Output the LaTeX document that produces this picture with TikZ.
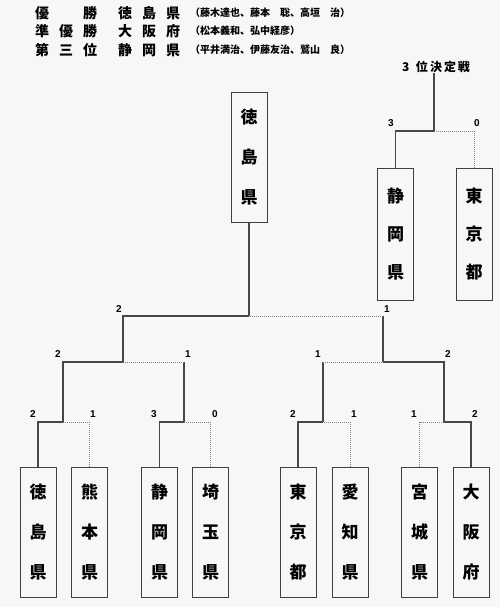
\documentclass[tikz,border=0pt]{standalone}
\usepackage{fontspec}
\setmainfont{Liberation Sans}
\newfontfamily\cjk{Noto Sans CJK JP}
\newlength\chpitch
\newcommand\bx[1]{\makebox[\chpitch][l]{#1}}
\begin{document}
\begin{tikzpicture}[x=1pt,y=-1pt,
  team/.style={draw=black!75, line width=1pt, minimum width=36pt, minimum height=130pt, inner sep=0pt, align=center, font=\cjk\bfseries\fontsize{17}{40}\selectfont},
  teamb/.style={team, minimum height=132pt, font=\cjk\bfseries\fontsize{17}{38}\selectfont},
  win/.style={draw=black!72, line width=1.1pt},
  lose/.style={draw=black!50, line width=0.9pt, dash pattern=on 1pt off 1pt},
  score/.style={font=\bfseries\fontsize{10}{10}\selectfont, inner sep=0pt},
  hdr/.style={font=\cjk\bfseries\fontsize{14}{14}\selectfont, anchor=west, inner sep=0pt},
  mem/.style={font=\cjk\bfseries\fontsize{10}{10}\selectfont, anchor=west, inner sep=0pt},
  ttl/.style={font=\cjk\bfseries\fontsize{12}{12}\selectfont, inner sep=0pt}]
\fill[black!3] (0,0) rectangle (500,607);
\useasboundingbox (0,0) rectangle (500,607);
% header
\setlength\chpitch{24pt}
\node[hdr] (h1a) at (35,13) {\bx{優}\bx{}\bx{勝}};
\node[hdr] (h1b) at (118,13) {\bx{徳}\bx{島}\bx{県}};
\node[mem] (h1c) at (190,13) {（藤木達也、藤本　聡、高垣　治）};
\node[hdr] (h2a) at (35,31) {\bx{準}\bx{優}\bx{勝}};
\node[hdr] (h2b) at (118,31) {\bx{大}\bx{阪}\bx{府}};
\node[mem] (h2c) at (190,31) {（松本義和、弘中経彦）};
\node[hdr] (h3a) at (35,50) {\bx{第}\bx{三}\bx{位}};
\node[hdr] (h3b) at (118,50) {\bx{静}\bx{岡}\bx{県}};
\node[mem] (h3c) at (190,50) {（平井満治、伊藤友治、鷲山　良）};
% teams
\node[team] (L1) at (38,532) {徳\\島\\県};
\node[team] (L2) at (89.5,532) {熊\\本\\県};
\node[team] (L3) at (159.5,532) {静\\岡\\県};
\node[team] (L4) at (210.5,532) {埼\\玉\\県};
\node[team] (L5) at (298,532) {東\\京\\都};
\node[team] (L6) at (350,532) {愛\\知\\県};
\node[team] (L7) at (419.5,532) {宮\\城\\県};
\node[team] (L8) at (471,532) {大\\阪\\府};
\node[team] (C) at (249,157.5) {徳\\島\\県};
\node[teamb] (S) at (395.5,234) {静\\岡\\県};
\node[teamb] (E) at (474,234) {東\\京\\都};
\setlength\chpitch{14pt}
\node[ttl] (Q) at (437,67) {\bx{3}\bx{位}\bx{決}\bx{定}\bx{戦}};
% junctions
\coordinate (J1) at (63,422);
\coordinate (J2) at (184,422);
\coordinate (J3) at (323,422);
\coordinate (J4) at (444,422);
\coordinate (K1) at (123,362);
\coordinate (K2) at (383,362);
\coordinate (F) at (249,316);
\coordinate (T) at (434,131);
% connectors
\draw[win] (L1.north) |- (J1);
\draw[lose] (L2.north) |- (J1);
\draw[win] (L3.north) |- (J2);
\draw[lose] (L4.north) |- (J2);
\draw[win] (L5.north) |- (J3);
\draw[lose] (L6.north) |- (J3);
\draw[lose] (L7.north) |- (J4);
\draw[win] (L8.north) |- (J4);
\draw[win] (J1) |- (K1);
\draw[win] (J2) -- (J2 |- K1);
\draw[lose] (J2 |- K1) -- (K1);
\draw[win] (J3) -- (J3 |- K2);
\draw[lose] (J3 |- K2) -- (K2);
\draw[win] (J4) |- (K2);
\draw[win] (K1) |- (F);
\draw[win] (K2) -- (K2 |- F);
\draw[lose] (K2 |- F) -- (F);
\draw[win] (F) -- (C.south);
\draw[win] (S.north) |- (T);
\draw[lose] (E.north) |- (T);
\draw[win] (T) -- (T |- Q.south);
% scores
\node[score] (s1) at (33,414) {2};
\node[score] (s2) at (93,414) {1};
\node[score] (s3) at (154,414) {3};
\node[score] (s4) at (215,414) {0};
\node[score] (s5) at (293,414) {2};
\node[score] (s6) at (354,414) {1};
\node[score] (s7) at (414,414) {1};
\node[score] (s8) at (475,414) {2};
\node[score] (r1) at (58,354) {2};
\node[score] (r2) at (188,354) {1};
\node[score] (r3) at (318,354) {1};
\node[score] (r4) at (448,354) {2};
\node[score] (f1) at (119,309) {2};
\node[score] (f2) at (387,309) {1};
\node[score] (t1) at (391,123) {3};
\node[score] (t2) at (477,123) {0};
\end{tikzpicture}
\end{document}
